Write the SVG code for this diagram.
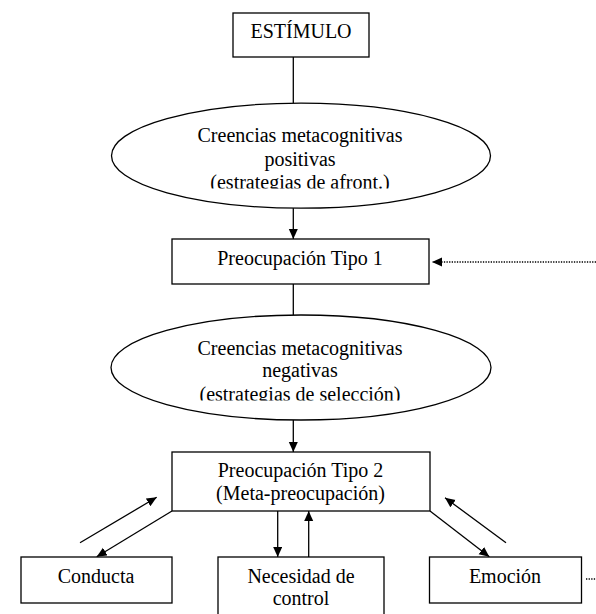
<svg xmlns="http://www.w3.org/2000/svg" width="596" height="614" viewBox="0 0 596 614">
<style>
.box{fill:#fff;stroke:#000;stroke-width:1.3}
.t{font-family:"Liberation Serif","Times New Roman",serif;font-size:20px;fill:#000;text-anchor:middle}
.ln{stroke:#000;stroke-width:1.3;fill:none}
.arr{stroke:#000;stroke-width:1.3;fill:none;marker-end:url(#ah)}
.dot{stroke:#000;stroke-width:1.3;fill:none;stroke-dasharray:1.3 1.3}
</style>
<defs>
<marker id="ah" markerUnits="userSpaceOnUse" markerWidth="11" markerHeight="10" refX="10" refY="4.5" orient="auto">
<path d="M0,0 L10,4.5 L0,9 z" fill="#000"/>
</marker>
<clipPath id="c1"><rect x="100" y="110" width="400" height="78.5"/></clipPath>
<clipPath id="c2"><rect x="100" y="322" width="400" height="78.5"/></clipPath>
</defs>
<rect width="596" height="614" fill="#fff"/>
<g id="connectors">
<line class="ln" x1="293.3" y1="57" x2="293.3" y2="103"/>
<line class="arr" x1="293.3" y1="208" x2="293.3" y2="239"/>
<line class="dot" x1="596" y1="262" x2="432" y2="262" marker-end="url(#ah)"/>
<line class="ln" x1="293.3" y1="284" x2="293.3" y2="315"/>
<line class="arr" x1="293.3" y1="420" x2="293.3" y2="452"/>
<line class="arr" x1="172" y1="511" x2="96.7" y2="556.7"/>
<line class="arr" x1="80" y1="542.7" x2="156.7" y2="497.3"/>
<line class="arr" x1="277.7" y1="511" x2="277.7" y2="557"/>
<line class="arr" x1="308.7" y1="557" x2="308.7" y2="511"/>
<line class="arr" x1="430" y1="511" x2="489.3" y2="556.7"/>
<line class="arr" x1="506" y1="542.7" x2="445" y2="497.7"/>
<line class="dot" x1="586" y1="579" x2="596" y2="579"/>
</g>
<g id="estimulo">
<rect class="box" x="233" y="13" width="136" height="44"/>
<text class="t" x="301" y="38.3">ESTÍMULO</text>
</g>
<g id="creencias-positivas">
<ellipse class="box" cx="301" cy="155.7" rx="189.5" ry="52.5"/>
<g clip-path="url(#c1)">
<text class="t" x="300" y="142">Creencias metacognitivas</text>
<text class="t" x="300" y="165.5">positivas</text>
<text class="t" x="300" y="189">(estrategias de afront.)</text>
</g>
</g>
<g id="tipo1">
<rect class="box" x="172" y="239" width="257" height="45"/>
<text class="t" x="300" y="265">Preocupación Tipo 1</text>
</g>
<g id="creencias-negativas">
<ellipse class="box" cx="301" cy="367.5" rx="190" ry="52.5"/>
<g clip-path="url(#c2)">
<text class="t" x="300" y="354.5">Creencias metacognitivas</text>
<text class="t" x="300" y="377">negativas</text>
<text class="t" x="300" y="400.5">(estrategias de selección)</text>
</g>
</g>
<g id="tipo2">
<rect class="box" x="172" y="452" width="258" height="59"/>
<text class="t" x="300.5" y="476.7">Preocupación Tipo 2</text>
<text class="t" x="300.5" y="500">(Meta-preocupación)</text>
</g>
<g id="conducta">
<rect class="box" x="21" y="557" width="151" height="46"/>
<text class="t" x="96" y="583.3">Conducta</text>
</g>
<g id="necesidad">
<rect class="box" x="218" y="557" width="166" height="62"/>
<text class="t" x="301" y="583.3">Necesidad de</text>
<text class="t" x="301" y="605">control</text>
</g>
<g id="emocion">
<rect class="box" x="429.5" y="557" width="152" height="46"/>
<text class="t" x="505" y="583.3">Emoción</text>
</g>
</svg>
